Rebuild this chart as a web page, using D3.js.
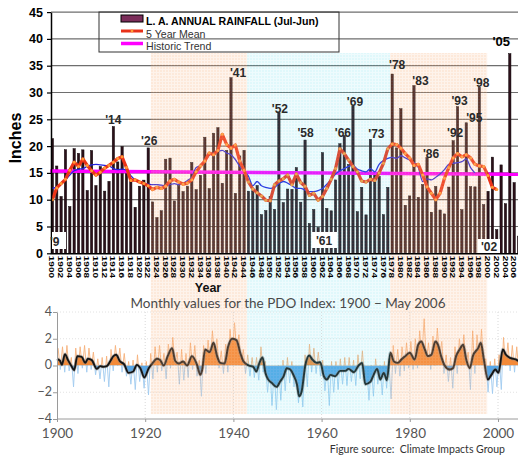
<!DOCTYPE html>
<html><head><meta charset="utf-8">
<script src="https://cdn.jsdelivr.net/npm/d3@7"></script>
<style>body{margin:0;background:#fff}svg{display:block}</style>
</head><body><svg id="c" width="518" height="456"></svg>
<script>
// ---------- DATA ----------
const years = d3.range(1900, 2008);               // rainfall seasons (ending year)
const rainfall = [21.4,16.29,10.60,19.32,8.72,19.52,18.65,19.30,11.72,19.18,
 12.63,16.18,11.60,13.42,23.65,17.05,19.92,15.26,13.86,8.58,
 12.52,13.65,19.66,9.59,6.67,7.94,17.56,17.76,9.77,12.66,
 11.52,12.53,16.95,11.88,14.55,21.66,12.07,22.41,23.43,13.07,
 19.21,32.76,11.18,18.17,19.22,11.59,11.65,12.66,7.22,7.99,
 10.60,8.21,26.21,9.46,11.99,11.94,16.00,9.54,21.13,5.58,
 8.18,4.85,18.79,8.38,7.93,13.69,20.44,22.00,16.58,27.47,
 7.77,12.32,7.17,21.26,14.92,14.35,7.21,12.31,33.44,19.67,
 26.98,8.96,10.71,31.28,10.43,12.82,17.86,7.66,12.48,8.08,
 7.35,12.36,21.00,27.36,8.14,24.35,12.44,12.40,31.01,9.09,
 11.57,17.94,4.42,16.49,9.25,37.25,13.19,3.21];
const mean5 = [10.0,12.2,13.0,13.8,15.5,17.0,16.2,17.6,16.4,15.4,
 14.6,15.1,15.9,16.4,17.0,17.7,18.0,16.0,13.6,13.7,
 13.3,13.0,12.6,11.9,12.3,12.1,12.5,13.5,13.8,13.3,
 12.9,13.1,13.7,15.2,16.3,17.2,18.7,18.4,19.2,22.2,
 20.3,19.6,20.2,17.2,15.5,13.3,12.0,11.3,10.7,9.9,
 9.8,12.8,13.5,13.9,14.6,12.8,14.8,13.2,12.5,10.8,
 11.2,9.9,10.6,12.1,13.8,15.8,19.5,18.6,17.4,16.2,
 15.2,13.5,13.3,13.8,13.6,15.0,16.8,19.5,20.4,20.3,
 19.6,18.6,17.8,16.4,16.6,14.6,12.4,11.2,10.0,11.2,
 14.0,16.0,17.8,18.6,18.0,18.4,17.8,16.6,16.3,16.2,
 14.5,12.3,11.9];
const smoothBlue = [12.1,12.4,13.1,13.7,14.6,15.4,15.7,15.8,16.2,16.5,
 16.6,16.5,16.4,16.3,15.8,15.6,15.7,15.5,14.5,13.7,
 13.3,13.0,12.9,12.8,12.8,12.7,12.6,12.8,13.0,12.8,
 13.0,13.6,14.2,16.0,16.4,17.2,18.3,18.7,19.0,19.2,
 18.7,18.4,17.5,16.2,15.3,14.4,12.6,13.4,12.6,12.3,
 12.1,12.3,13.0,13.4,13.1,12.6,12.1,12.1,11.8,11.5,
 11.5,11.7,12.1,12.9,13.8,14.8,15.4,15.8,16.2,16.4,
 15.7,15.4,15.2,15.8,15.2,16.6,17.3,17.7,17.9,17.7,
 18.2,17.8,17.4,16.9,16.0,13.4,13.9,13.7,14.2,14.8,
 15.6,16.6,16.8,16.9,17.1,17.6,16.0,15.0];
const trendYears = [1900, 2008];
const trendValues = [15.35, 14.75];
const yTickValues = [0,5,10,15,20,25,30,35,40,45];
const xLabelYears = d3.range(1900, 2007, 2);
const barLabels = [[1914,"'14"],[1922,"'26"],[1941,"'41"],[1952,"'52"],[1958,"'58"],[1966,"'66"],
 [1969,"'69"],[1973,"'73"],[1978,"'78"],[1983,"'83"],[1986,"'86"],[1992,"'92"],[1993,"'93"],
 [1995,"'95"],[1998,"'98"],[2005,"'05"]];
const boxLabels = [[1961,"'61"],[2002,"'02"],[1900,"'9"]];
const regimes = [[1923.1,1945.2,"warm"],[1945.2,1978.0,"cool"],[1978.0,2000.3,"warm"]];

// PDO
const pdoYears = [1900.0,1900.7,1901.1,1901.8,1902.5,1903.3,1903.9,1904.6,1905.6,1906.4,1907.0,1907.9,
 1909.0,1909.8,1910.5,1911.3,1912.2,1912.8,1913.4,1914.3,1915.2,1916.2,1917.3,1918.1,1918.9,1919.8,
 1920.8,1921.5,1922.7,1923.4,1924.2,1925.1,1926.1,1926.8,1927.6,1928.6,1929.5,1930.6,1931.7,1932.5,
 1932.9,1933.6,1934.6,1935.5,1936.3,1937.0,1938.0,1938.8,1939.7,1940.7,1941.6,1942.3,1943.5,1944.5,
 1945.2,1945.9,1946.6,1947.3,1947.8,1948.7,1949.8,1950.6,1951.4,1952.1,1952.9,1953.6,1954.4,1954.9,
 1955.5,1956.3,1957.2,1957.9,1958.9,1959.7,1960.5,1961.2,1962.0,1963.1,1964.2,1965.4,1966.1,1967.3,
 1968.4,1969.2,1969.9,1971.1,1971.8,1972.6,1973.3,1974.1,1974.8,1975.6,1976.4,1977.3,1978.1,1978.8,
 1980.0,1981.1,1981.9,1982.6,1983.4,1984.1,1984.9,1985.8,1986.4,1987.1,1987.9,1989.0,1989.8,1990.5,
 1991.3,1992.1,1992.8,1993.6,1994.3,1995.5,1996.1,1996.8,1997.7,1998.5,1999.4,2000.1,2001.1,2001.8,
 2002.9,2004.0,2005.0,2006.0];
const pdoValues = [0.5,0.35,0.05,0.85,0.4,-0.05,-0.35,0.7,0.65,0.2,0.5,0.4,
 -0.25,-0.05,-0.1,-0.05,0.4,0.7,0.8,0.3,0.1,-0.55,-0.45,0.05,-0.2,-0.9,
 -0.2,0.1,0.5,0.4,0.0,0.7,1.3,0.35,0.15,0.3,0.0,0.7,0.1,-0.7,
 -0.35,1.2,1.0,1.7,0.7,0.2,0.15,1.4,2.0,1.9,0.9,0.3,0.0,-0.1,
 -0.45,0.2,0.6,-0.6,-1.0,-1.3,-1.6,-1.2,-0.8,-0.2,-0.3,-0.7,-1.4,-2.3,
 -1.9,0.0,0.75,0.45,0.2,0.25,-0.8,-1.05,-0.7,-0.8,-0.4,-0.4,-0.25,-0.5,
 0.0,0.2,-1.4,-1.2,-0.7,-0.25,-1.05,-0.55,-1.1,0.95,0.3,0.2,0.45,0.65,
 0.95,0.45,1.55,1.8,1.2,0.7,0.8,1.8,1.55,0.7,0.0,-0.3,-0.2,0.7,
 1.2,1.55,0.45,-0.2,0.7,1.3,1.7,0.45,-1.05,-0.7,-0.3,-0.55,1.2,0.8,
 0.55,0.45,0.3,0.4];
const spikeYears = d3.range(1900, 2006);
const pdoHigh = [1.3,1.4,1.5,0.6,1.3,1.4,1.5,1.3,1.0,0.5,
 0.6,0.7,1.2,1.5,1.3,0.9,0.3,0.4,0.8,0.2,
 0.3,0.9,1.4,1.5,0.9,1.6,2.1,1.0,1.2,0.9,
 1.7,1.5,0.4,1.5,1.9,2.6,2.0,1.1,1.6,2.7,
 3.2,2.3,1.2,0.8,0.6,0.6,1.4,0.3,-0.1,-0.4,
 0.0,0.4,0.6,0.3,-0.5,-0.9,0.8,1.6,1.3,1.0,
 0.4,0.0,0.3,0.3,0.5,0.6,0.6,0.4,0.8,1.1,
 -0.2,0.0,0.5,0.0,0.3,0.5,1.5,1.2,1.4,1.7,
 1.8,2.0,2.6,3.5,1.7,2.2,2.8,1.8,0.8,0.6,
 1.4,2.0,2.3,1.0,2.6,2.3,2.7,0.5,0.3,0.5,
 0.8,2.1,1.7,1.5,1.4,1.3];
const pdoLow = [-0.3,-0.5,-0.4,-1.6,-0.6,-0.2,-0.5,-0.3,-0.7,-1.0,
 -1.2,-1.6,-0.4,0.0,-0.5,-0.8,-1.4,-1.8,-1.2,-1.7,
 -2.2,-1.0,-0.5,-0.4,-1.0,-0.2,0.2,-1.4,-1.1,-0.9,
 -0.3,-0.8,-2.3,-0.6,0.1,0.5,-0.2,-0.6,-0.5,0.6,
 1.0,0.0,-0.6,-0.8,-0.9,-1.1,-0.5,-2.0,-3.0,-3.3,
 -2.6,-1.9,-1.3,-1.6,-2.8,-3.1,-1.6,-0.5,-0.6,-0.8,
 -1.9,-3.0,-2.0,-1.8,-1.4,-1.5,-1.2,-1.5,-1.0,-1.2,
 -2.6,-2.3,-1.4,-2.2,-1.7,-2.5,-0.6,-0.8,-0.4,-0.2,
 -0.3,-0.2,0.6,0.3,-0.3,0.0,0.5,-0.6,-1.2,-1.7,
 -0.6,0.0,0.1,-1.8,-0.6,0.2,0.1,-2.0,-2.1,-1.6,
 -1.8,0.0,-0.4,-0.5,-0.6,-0.6];
const pdoYTicks = [-4,-2,0,2,4];
const pdoXTicks = [1900,1920,1940,1960,1980,2000];

// ---------- CHART ----------
const svg = d3.select("#c");
svg.append("rect").attr("width",518).attr("height",456).attr("fill","#fff");
const defs = svg.append("defs");
function pat(id, col){
  const p = defs.append("pattern").attr("id",id).attr("width",3).attr("height",3).attr("patternUnits","userSpaceOnUse");
  p.append("rect").attr("width",3).attr("height",3).attr("fill",col);
  p.append("path").attr("d","M0 0.5H3M0.5 0V3").attr("stroke","#fff").attr("stroke-width",1).attr("opacity",0.45);
}
pat("pw","#f7a264"); pat("pc","#3fd6e6");

const ARIAL = "'Liberation Sans', Arial, sans-serif";
const xBand = d3.scaleBand().domain(years).range([50.2, 520.7]);
const xc = y => xBand(y) + xBand.bandwidth()/2;
const xLin = d3.scaleLinear().domain([1900, 2008]).range([50.2, 520.7]);
const yT = d3.scaleLinear().domain([0,45]).range([253.3, 12.1]);

// legend box background
const leg = svg.append("g");
leg.append("rect").attr("x",99).attr("y",12).attr("width",240).attr("height",40)
  .attr("fill","#fff").attr("stroke","#333").attr("stroke-width",1);

// gridlines
svg.append("g").selectAll("line").data(yTickValues.filter(d=>d>0)).join("line")
  .attr("x1",51).attr("x2",518).attr("y1",d=>yT(d)).attr("y2",d=>yT(d))
  .attr("stroke","#6e6e6e").attr("stroke-width",1.2);

// bars
svg.append("g").selectAll("rect").data(years).join("rect")
  .attr("x",(d)=>xc(d)-1.15).attr("width",2.3)
  .attr("y",(d,i)=>yT(rainfall[i])).attr("height",(d,i)=>yT(0)-yT(rainfall[i]))
  .attr("fill","#2c1019").attr("stroke","#0c0508").attr("stroke-width",0.5);

// trend
svg.append("path").datum(trendYears.map((y,i)=>[y,trendValues[i]]))
  .attr("d",d3.line().x(d=>xLin(d[0])).y(d=>yT(d[1])))
  .attr("stroke","#ff00ff").attr("stroke-width",3.5).attr("fill","none");
// blue smooth
svg.append("path").datum(smoothBlue.map((v,i)=>[years[i],v]))
  .attr("d",d3.line().x(d=>xc(d[0])).y(d=>yT(d[1])).curve(d3.curveMonotoneX))
  .attr("stroke","#2323e0").attr("stroke-width",1.3).attr("fill","none");
// red 5-yr mean
svg.append("path").datum(mean5.map((v,i)=>[years[i],v]))
  .attr("d",d3.line().x(d=>xc(d[0])).y(d=>yT(d[1])))
  .attr("stroke","#ec3418").attr("stroke-width",3.2).attr("fill","none").attr("stroke-linejoin","round");
svg.append("g").selectAll("circle").data(mean5).join("circle")
  .attr("cx",(d,i)=>xc(years[i])).attr("cy",d=>yT(d)).attr("r",1.5).attr("fill","#ff9a35");

// ---------- PDO panel ----------
const xP = d3.scaleLinear().domain([1900,2000]).range([57,498]);
const yP = d3.scaleLinear().domain([-4,4]).range([419,312]);
const pdo = pdoYears.map((y,i)=>[y,pdoValues[i]]);
defs.append("clipPath").attr("id","pos").append("rect").attr("x",57).attr("y",300).attr("width",470).attr("height",yP(0)-300);
defs.append("clipPath").attr("id","neg").append("rect").attr("x",57).attr("y",yP(0)).attr("width",470).attr("height",440-yP(0));

const pg = svg.append("g");
pg.append("g").selectAll("line").data(pdoXTicks.slice(1)).join("line")
  .attr("x1",d=>xP(d)).attr("x2",d=>xP(d)).attr("y1",312).attr("y2",419)
  .attr("stroke","#d8d8d8").attr("stroke-dasharray","1,2");
pg.append("g").selectAll("line").data([4,2,-2]).join("line")
  .attr("x1",57).attr("x2",518).attr("y1",d=>yP(d)).attr("y2",d=>yP(d))
  .attr("stroke","#e2e2e2").attr("stroke-dasharray","1,2");

const zig = [];
spikeYears.forEach((y,i)=>{ zig.push([y+0.25,pdoHigh[i]]); zig.push([y+0.75,pdoLow[i]]); });
const zline = d3.line().x(d=>xP(d[0])).y(d=>yP(d[1]));
pg.append("path").datum(zig).attr("d",zline).attr("clip-path","url(#pos)")
  .attr("fill","none").attr("stroke","#f6b17c").attr("stroke-width",0.9);
pg.append("path").datum(zig).attr("d",zline).attr("clip-path","url(#neg)")
  .attr("fill","none").attr("stroke","#a0cbef").attr("stroke-width",0.9);

const area = d3.area().x(d=>xP(d[0])).y0(yP(0)).y1(d=>yP(d[1])).curve(d3.curveMonotoneX);
pg.append("path").datum(pdo).attr("d",area).attr("clip-path","url(#pos)").attr("fill","#f38a38");
pg.append("path").datum(pdo).attr("d",area).attr("clip-path","url(#neg)").attr("fill","#58a6e6");
const pl = d3.line().x(d=>xP(d[0])).y(d=>yP(d[1])).curve(d3.curveMonotoneX);
pg.append("path").datum(pdo).attr("d",pl).attr("fill","none").attr("stroke","#888").attr("stroke-width",3.4).attr("opacity",0.5);
pg.append("path").datum(pdo).attr("d",pl).attr("fill","none").attr("stroke","#151515").attr("stroke-width",1.9);

const PF = "Lato, 'Open Sans', sans-serif";
const pyA = pg.append("g").attr("transform","translate(57,0)")
  .call(d3.axisLeft(yP).tickValues(pdoYTicks).tickSize(4).tickSizeOuter(0)
    .tickFormat(d=> d<0 ? "\u2212"+Math.abs(d) : String(d)));
pyA.select(".domain").attr("stroke","#9a9a9a");
pyA.selectAll(".tick line").attr("stroke","#9a9a9a");
pyA.selectAll("text").attr("x",-5).attr("dy","0.26em").attr("fill","#555").style("font-family",PF).style("font-size","12.5px");
const pxA = pg.append("g").attr("transform","translate(0,419)")
  .call(d3.axisBottom(xP).tickValues(pdoXTicks).tickSize(3).tickSizeOuter(0).tickFormat(d3.format("d")));
pxA.select(".domain").remove();
pxA.selectAll(".tick line").attr("stroke","#9a9a9a");
pxA.selectAll("text").attr("y",9).attr("fill","#555").style("font-family",PF).style("font-size","13.5px");
pg.append("line").attr("x1",57).attr("x2",518).attr("y1",419).attr("y2",419).attr("stroke","#9a9a9a");

// ---------- regime overlays ----------
svg.append("g").selectAll("rect").data(regimes).join("rect")
  .attr("x",d=>xLin(d[0])).attr("width",d=>xLin(d[1])-xLin(d[0]))
  .attr("y",53).attr("height",361)
  .attr("fill",d=>d[2]==="warm"?"url(#pw)":"url(#pc)")
  .attr("opacity",d=>d[2]==="warm"?0.24:0.16);

// ---------- top axes ----------
const yA = svg.append("g").attr("transform","translate(51,0)")
  .call(d3.axisLeft(yT).tickValues(yTickValues).tickSize(4).tickSizeOuter(0).tickFormat(d3.format("d")));
yA.select(".domain").attr("stroke","#000").attr("stroke-width",1.5);
yA.selectAll(".tick line").attr("stroke","#000").attr("stroke-width",1.2);
yA.selectAll("text").attr("x",-8).attr("fill","#000")
  .style("font-family",ARIAL).style("font-weight","bold").style("font-size","12.5px");

const xA = svg.append("g").attr("transform",`translate(0,${yT(0)})`)
  .call(d3.axisBottom(xBand).tickValues(xLabelYears).tickSize(0).tickSizeOuter(0));
xA.select(".domain").attr("stroke","#000").attr("stroke-width",1.5);
xA.selectAll("text").attr("x",0).attr("y",0).attr("dy","0.36em")
  .attr("transform","translate(0,2.5) rotate(90) scale(1,0.8)")
  .style("text-anchor","start").attr("fill","#000")
  .style("font-family",ARIAL).style("font-weight","bold").style("font-size","10px");

// axis titles
svg.append("text").attr("transform","translate(21,138) rotate(-90)").attr("text-anchor","middle")
  .style("font-family",ARIAL).style("font-weight","bold").style("font-size","16px").text("Inches");
svg.append("text").attr("x",208).attr("y",291.5).attr("text-anchor","middle")
  .style("font-family",ARIAL).style("font-weight","bold").style("font-size","12.5px").attr("fill","#111").text("Year");

// bar annotations
const labelLayout = {"'14":[0,-3],"'26":[1,-3],"'41":[7,-1],"'52":[1,0],"'58":[0.5,-3],"'66":[3,-7],
 "'69":[2,0],"'73":[6,-1.5],"'78":[5,-5],"'83":[6.5,-1],"'86":[4,0],"'92":[2,-4],"'93":[2,-2],
 "'95":[8,-1],"'98":[2,0],"'05":[-8.5,-8]};
svg.append("g").selectAll("text").data(barLabels).join("text")
  .attr("x",d=>xc(d[0])+labelLayout[d[1]][0])
  .attr("y",d=>yT(rainfall[years.indexOf(d[0])])+labelLayout[d[1]][1])
  .attr("text-anchor","middle").attr("fill",d=>d[1]==="'05"?"#000":"#2a2a2a")
  .style("font-family",ARIAL).style("font-weight","bold").style("font-size",d=>d[1]==="'05"?"13px":"12px")
  .text(d=>d[1]);

const boxLayout = {"'61":[312,232,25,16,316,245],"'02":[478,239,22,14,481,250.5],"'9":[52,232,14,17,50,246]};
const bl = svg.append("g").selectAll("g").data(boxLabels).join("g");
bl.append("rect").attr("x",d=>boxLayout[d[1]][0]).attr("y",d=>boxLayout[d[1]][1])
  .attr("width",d=>boxLayout[d[1]][2]).attr("height",d=>boxLayout[d[1]][3]).attr("fill","#fff");
bl.append("text").attr("x",d=>boxLayout[d[1]][4]).attr("y",d=>boxLayout[d[1]][5])
  .attr("fill","#2a2a2a").style("font-family",ARIAL).style("font-weight","bold").style("font-size","12px")
  .text(d=>d[1]);

// legend contents
leg.raise();
leg.select("rect").attr("fill","none");
leg.append("rect").attr("x",121).attr("y",15).attr("width",22).attr("height",7)
  .attr("fill","#7b2d5a").attr("stroke","#000").attr("stroke-width",1);
leg.append("text").attr("x",146).attr("y",24.5).style("font-family",ARIAL).style("font-weight","bold")
  .style("font-size","10.6px").text("L. A. ANNUAL RAINFALL (Jul-Jun)");
leg.append("line").attr("x1",121).attr("x2",143).attr("y1",31).attr("y2",31).attr("stroke","#e8321a").attr("stroke-width",3);
leg.append("circle").attr("cx",132).attr("cy",31).attr("r",1.4).attr("fill","#ff9a35");
leg.append("text").attr("x",146).attr("y",37.5).attr("fill","#333").style("font-family",ARIAL)
  .style("font-size","10.6px").text("5 Year Mean");
leg.append("line").attr("x1",121).attr("x2",143).attr("y1",43.5).attr("y2",43.5).attr("stroke","#ff00ff").attr("stroke-width",3.5);
leg.append("text").attr("x",146).attr("y",50).attr("fill","#333").style("font-family",ARIAL)
  .style("font-size","10.6px").text("Historic Trend");

// PDO title & source
svg.append("text").attr("x",288).attr("y",307.5).attr("text-anchor","middle").attr("fill","#4a4a4a")
  .style("font-family",PF).style("font-size","13.5px")
  .text("Monthly values for the PDO Index: 1900 \u2212 May 2006");
svg.append("text").attr("x",505).attr("y",453).attr("text-anchor","end").attr("fill","#333")
  .style("font-family",PF).style("font-size","10.5px")
  .attr("xml:space","preserve").text("Figure source:  Climate Impacts Group");
</script></body></html>
